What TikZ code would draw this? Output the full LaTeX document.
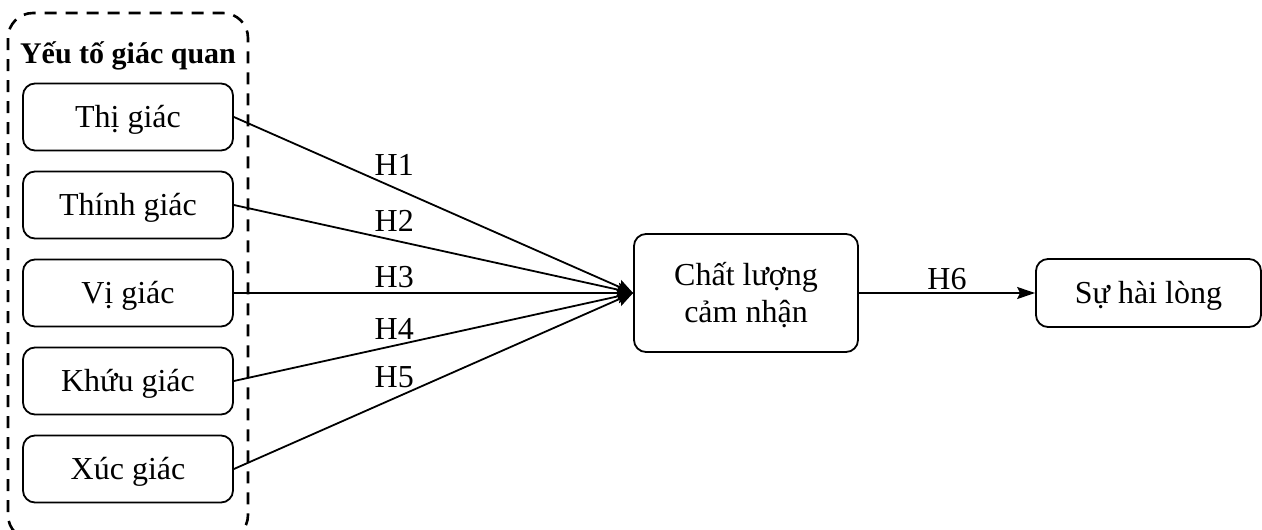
\documentclass[tikz,border=0pt]{standalone}
\usepackage{fontspec}
\setmainfont{Liberation Serif}
\usetikzlibrary{arrows.meta}
\begin{document}
\begin{tikzpicture}[x=1pt,y=-1pt,
  font=\fontsize{32}{37}\selectfont,
  box/.style={draw, line width=1.8pt, rounded corners=12pt, inner sep=0pt,
    text height=21pt, text depth=0pt},
  sense/.style={box, minimum width=210pt, minimum height=67pt},
  arr/.style={line width=1.8pt, -{Stealth[length=16pt,width=14pt,inset=3pt]}},
  arrsmall/.style={line width=1.8pt, -{Stealth[length=18pt,width=12pt,inset=3pt]}},
  lbl/.style={inner sep=0pt, text height=21pt, text depth=0pt}
]
\useasboundingbox (0,0) rectangle (1262,530);
\begin{scope}
\clip (0,0) rectangle (1262,530);
\draw[line width=2.6pt, dash pattern=on 12pt off 9pt, rounded corners=25pt]
  (8,13) rectangle (248,540);
\end{scope}
\node[font=\fontsize{30}{37}\selectfont\bfseries, inner sep=0pt, anchor=base] (title) at (128,63) {Yếu tố giác quan};
\node[sense] (thi) at (128,117) {Thị giác};
\node[sense] (thinh) at (128,205) {Thính giác};
\node[sense] (vi) at (128,293) {Vị giác};
\node[sense] (khuu) at (128,381) {Khứu giác};
\node[sense] (xuc) at (128,469) {Xúc giác};
\node[box, minimum width=224pt, minimum height=118pt, align=center, text height=58pt, text depth=0pt] (chat) at (746,293) {Chất lượng\\cảm nhận};
\node[sense, minimum width=225pt, minimum height=68pt] (hl) at (1148.5,293) {Sự hài lòng};
\draw[arr] (thi.east) -- node[lbl, pos=0.4017, above=11.7pt] {H1} (chat.west);
\draw[arr] (thinh.east) -- node[lbl, pos=0.4017, above=8.4pt] {H2} (chat.west);
\draw[arr] (vi.east) -- node[lbl, pos=0.4017, above=5pt] {H3} (chat.west);
\draw[arr] (khuu.east) -- node[lbl, pos=0.4017, above=5.6pt] {H4} (chat.west);
\draw[arr] (xuc.east) -- node[lbl, pos=0.4017, above=10.3pt] {H5} (chat.west);
\draw[arrsmall] (chat.east) -- node[lbl, pos=0.5, above=3pt] {H6} (hl.west);
\end{tikzpicture}
\end{document}
